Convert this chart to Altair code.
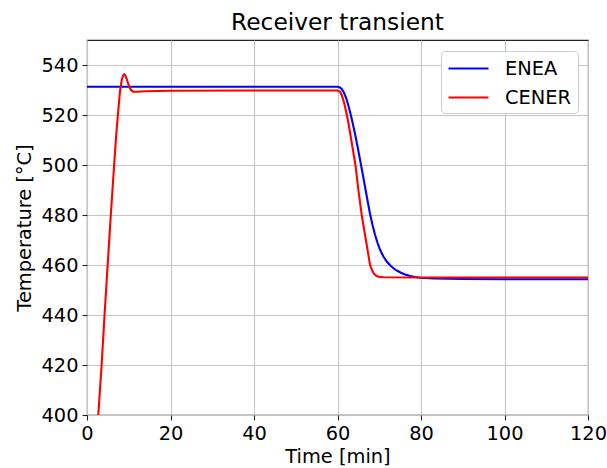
import altair as alt
import pandas as pd

# ENEA curve (time in min, temperature in degC)
enea_t = [0, 60.0, 60.6, 61.0, 61.6, 62.2, 62.7, 63.2, 63.7, 64.2, 64.8, 65.4, 66.0, 66.6, 67.2, 67.8,
          68.4, 69.0, 69.6, 70.2, 71.0, 71.8, 72.6, 73.4, 74.2, 75.2, 76.2, 77.4, 78.6, 79.8,
          83.0, 90.0, 100.0, 120.0]
enea_v = [531.3, 531.3, 531.0, 530.4, 528.8, 526.2, 523.2, 519.9, 516.3, 512.4, 507.4, 502.1, 496.7, 491.2, 485.7, 480.4,
          475.9, 472.0, 468.8, 466.1, 463.4, 461.4, 459.9, 458.7, 457.8, 456.9, 456.2, 455.6, 455.2, 454.9,
          454.6, 454.4, 454.3, 454.3]

# CENER curve
cener_t = [0, 2.7, 3.5, 4.2, 4.95, 5.7, 6.5, 7.0, 7.5, 7.9, 8.3, 8.6, 8.9, 9.2, 9.5, 9.9,
           10.3, 10.7, 11.1, 12.0, 14.0, 20.0, 40.0, 60.0, 60.6, 61.0, 61.6, 62.1, 62.6,
           63.4, 64.3, 65.0, 65.8, 66.8, 67.8, 68.3, 68.8, 69.3, 69.8, 71.0, 80.0, 120.0]
cener_v = [330.0, 400.0, 420.0, 440.0, 460.0, 480.0, 500.0, 512.0, 522.0, 529.5, 533.8, 535.6, 536.3, 535.8, 534.5, 532.3,
           530.6, 529.7, 529.3, 529.3, 529.5, 529.7, 529.8, 529.8, 529.3, 528.0, 524.8, 521.0, 517.0,
           509.0, 500.0, 490.0, 480.0, 470.0, 460.0, 457.8, 456.4, 455.7, 455.3, 455.1, 455.0, 455.0]

series_names = ["ENEA", "CENER"]
series_colors = ["#0000ff", "#ff0000"]
x_ticks = [0, 20, 40, 60, 80, 100, 120]
y_ticks = [400, 420, 440, 460, 480, 500, 520, 540]

df = pd.concat([
    pd.DataFrame({"t": enea_t, "v": enea_v, "s": "ENEA", "o": range(len(enea_t))}),
    pd.DataFrame({"t": cener_t, "v": cener_v, "s": "CENER", "o": range(len(cener_t))}),
])

FONT = "DejaVu Sans"
FS = 19.4

chart = alt.Chart(df).mark_line(clip=True, strokeWidth=2.1).encode(
    x=alt.X("t:Q", title="Time [min]",
            scale=alt.Scale(domain=[0, 120], nice=False, zero=False),
            axis=alt.Axis(values=x_ticks, format="d", titlePadding=5,
                          labelFlush=False, labelOverlap=False)),
    y=alt.Y("v:Q", title="Temperature [°C]",
            scale=alt.Scale(domain=[400, 550], nice=False, zero=False),
            axis=alt.Axis(values=y_ticks, format="d", titlePadding=6,
                          labelFlush=False, labelOverlap=False)),
    color=alt.Color("s:N", title=None,
                    scale=alt.Scale(domain=series_names, range=series_colors),
                    legend=alt.Legend(orient="none", legendX=354, legendY=11,
                                      symbolType="M-1,0H3", symbolSize=400,
                                      symbolStrokeWidth=2.1, labelFontSize=FS,
                                      labelFont=FONT, labelColor="#000000",
                                      labelOffset=35, rowPadding=8,
                                      padding=6, fillColor="#ffffff",
                                      strokeColor="#cccccc", cornerRadius=4)),
    order="o:Q",
).properties(
    width=501, height=375,
    title=alt.TitleParams("Receiver transient", fontSize=23.3, font=FONT,
                          fontWeight="normal", color="#000000", anchor="middle",
                          frame="group", offset=5),
    autosize=alt.AutoSizeParams(type="none"),
    padding={"left": 87, "top": 40, "right": 19, "bottom": 53},
).configure_view(
    stroke="#222222", strokeWidth=1.1
).configure_axis(
    labelFont=FONT, titleFont=FONT, labelFontSize=FS, titleFontSize=FS,
    titleFontWeight="normal", labelColor="#000000", titleColor="#000000",
    gridColor="#c4c4c4", gridWidth=1.1, tickColor="#222222", tickSize=5,
    tickWidth=1.1, labelPadding=4, domain=False,
)

chart.save("out.html", embed_options={"renderer": "svg", "actions": False})
